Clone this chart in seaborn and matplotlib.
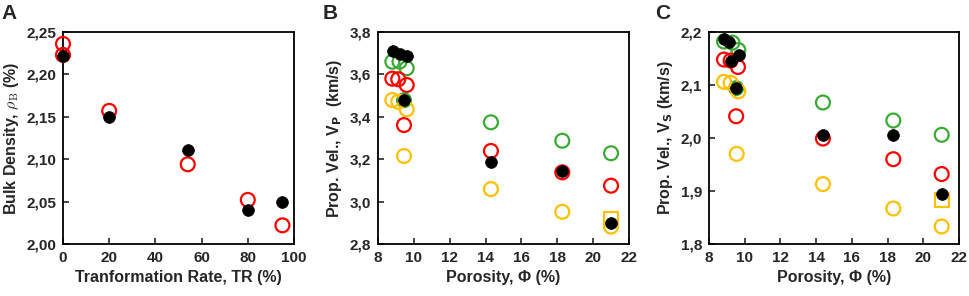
import matplotlib
matplotlib.use("Agg")
import matplotlib.pyplot as plt
import seaborn as sns
import pandas as pd
from matplotlib.ticker import FuncFormatter, MultipleLocator

# --- panel A: bulk density vs transformation rate ---
tr_black = [0, 20, 54, 80, 95]
rho_black = [2.222, 2.150, 2.111, 2.040, 2.050]
tr_red = [0, 0, 20, 54, 80, 95]
rho_red = [2.236, 2.223, 2.157, 2.094, 2.052, 2.022]

# --- panel B: Vp vs porosity ---
phi_black = [8.85, 9.2, 9.6, 9.45, 14.3, 18.28, 21.0]
vp_black = [3.710, 3.695, 3.685, 3.478, 3.185, 3.144, 2.897]
phi_green = [8.8, 9.2, 9.6, 9.45, 14.3, 18.28, 21.0]
vp_green = [3.660, 3.660, 3.629, 3.478, 3.374, 3.287, 3.228]
phi_red = [8.8, 9.13, 9.6, 9.45, 14.3, 18.28, 21.0]
vp_red = [3.580, 3.577, 3.550, 3.361, 3.239, 3.138, 3.075]
phi_yellow = [8.8, 9.13, 9.6, 9.45, 14.3, 18.28, 21.0]
vp_yellow = [3.479, 3.471, 3.435, 3.215, 3.059, 2.952, 2.882]
phi_sq = [21.0]
vp_sq = [2.918]

# --- panel C: Vs vs porosity ---
phic_black = [8.84, 9.14, 9.68, 9.21, 9.52, 14.38, 18.32, 21.03]
vs_black = [2.187, 2.182, 2.157, 2.146, 2.095, 2.005, 2.006, 1.895]
phic_green = [8.84, 9.31, 9.64, 9.52, 14.38, 18.32, 21.03]
vs_green = [2.182, 2.180, 2.166, 2.094, 2.067, 2.033, 2.006]
phic_red = [8.84, 9.21, 9.62, 9.52, 14.38, 18.32, 21.03]
vs_red = [2.148, 2.146, 2.134, 2.041, 1.999, 1.960, 1.932]
phic_yellow = [8.84, 9.21, 9.64, 9.55, 14.38, 18.32, 21.03]
vs_yellow = [2.106, 2.104, 2.088, 1.970, 1.913, 1.867, 1.833]
phic_sq = [21.03]
vs_sq = [1.883]

GREEN = "#3aaa35"
RED = "#ff0000"
YELLOW = "#ffc000"

sns.set_theme(style="white")
plt.rcParams["font.family"] = ["Liberation Sans", "DejaVu Sans"]
plt.rcParams["font.weight"] = "bold"

fig = plt.figure(figsize=(9.69, 2.96), dpi=100)
bottom, height = 0.1757, 0.7162
axA = fig.add_axes([0.0650, bottom, 0.2384, height])
axB = fig.add_axes([0.3901, bottom, 0.2590, height])
axC = fig.add_axes([0.7317, bottom, 0.2580, height])


def open_pts(ax, x, y, color, marker="o"):
    sns.scatterplot(x=x, y=y, ax=ax, marker=marker, s=100, color=color,
                    facecolor="none", edgecolor=color, linewidth=1.6,
                    zorder=3, clip_on=False)


def filled_pts(ax, x, y):
    sns.scatterplot(x=x, y=y, ax=ax, s=72, color="black",
                    edgecolor="black", linewidth=0.5, zorder=4, clip_on=False)


def comma(dec):
    return FuncFormatter(lambda v, p: f"{v:.{dec}f}".replace(".", ","))


def style(ax, xlim, ylim, xstep, ystep, ydec):
    ax.set_xlim(*xlim)
    ax.set_ylim(*ylim)
    ax.xaxis.set_major_locator(MultipleLocator(xstep))
    ax.yaxis.set_major_locator(MultipleLocator(ystep))
    ax.yaxis.set_major_formatter(comma(ydec))
    ax.tick_params(direction="in", length=4, width=1.2, labelsize=11,
                   bottom=True, left=True, pad=5)
    for lbl in ax.get_xticklabels() + ax.get_yticklabels():
        lbl.set_fontweight("bold")
    for sp in ax.spines.values():
        sp.set_linewidth(1.3)
        sp.set_color("black")


# A
filled_pts(axA, tr_black, rho_black)
open_pts(axA, tr_red, rho_red, RED)
style(axA, (0, 100), (2.0, 2.25), 20, 0.05, 2)
axA.set_xlabel("Tranformation Rate, TR (%)", fontsize=11.5, fontweight="bold")
axA.set_ylabel(r"Bulk Density, $\rho_\mathrm{B}$ (%)", fontsize=11.5,
               fontweight="bold", math_fontfamily="cm")

# B
open_pts(axB, phi_green, vp_green, GREEN)
open_pts(axB, phi_red, vp_red, RED)
open_pts(axB, phi_yellow, vp_yellow, YELLOW)
open_pts(axB, phi_sq, vp_sq, YELLOW, marker="s")
filled_pts(axB, phi_black, vp_black)
style(axB, (8, 22), (2.8, 3.8), 2, 0.2, 1)
axB.set_xlabel("Porosity, \u03a6 (%)", fontsize=11.5, fontweight="bold")
axB.set_ylabel(r"Prop. Vel., V$_\mathbf{P}$  (km/s)", fontsize=11.5, fontweight="bold")

# C
filled_pts(axC, phic_black, vs_black)
open_pts(axC, phic_green, vs_green, GREEN)
open_pts(axC, phic_red, vs_red, RED)
open_pts(axC, phic_yellow, vs_yellow, YELLOW)
open_pts(axC, phic_sq, vs_sq, YELLOW, marker="s")
style(axC, (8, 22), (1.8, 2.2), 2, 0.1, 1)
axC.set_xlabel("Porosity, \u03a6 (%)", fontsize=11.5, fontweight="bold")
axC.set_ylabel(r"Prop. Vel., V$_\mathbf{S}$ (km/s)", fontsize=11.5, fontweight="bold")

for ax, letter, xpos in [(axA, "A", 0.002), (axB, "B", 0.333), (axC, "C", 0.676)]:
    fig.text(xpos, 0.985, letter, fontsize=15, fontweight="bold", va="top", ha="left")

fig.savefig("out.png", dpi=100)
